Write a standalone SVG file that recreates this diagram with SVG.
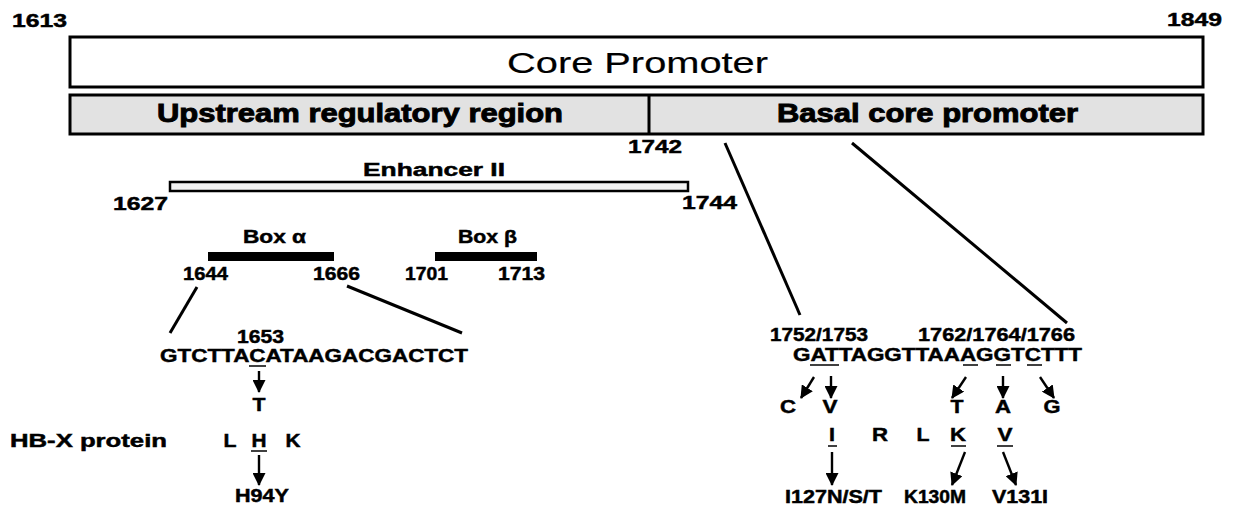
<svg xmlns="http://www.w3.org/2000/svg" width="1237" height="510" viewBox="0 0 1237 510">
<style>
text{font-family:"Liberation Sans",Arial,sans-serif;font-weight:bold;fill:#000;stroke:#000;stroke-width:0.45}
.n{font-size:17.5px}
.s{font-size:18px}
.big{font-size:25px;stroke-width:0.9}
.cp{font-size:29px;font-weight:normal;stroke-width:0.2}
.ln{stroke:#000;stroke-width:3;fill:none}
.ar{stroke:#000;stroke-width:2.4;fill:none;marker-end:url(#ah)}
.ul{stroke:#000;stroke-width:1.5}
</style>
<defs>
<marker id="ah" markerUnits="userSpaceOnUse" markerWidth="13" markerHeight="13" viewBox="0 0 13 13" refX="12" refY="6.5" orient="auto">
<path d="M0,0 L13,6.5 L0,13 z" fill="#000"/>
</marker>
</defs>
<rect width="1237" height="510" fill="#fff"/>

<g id="coords-top">
<text class="n" x="12" y="27" textLength="55" lengthAdjust="spacingAndGlyphs">1613</text>
<text class="n" x="1167" y="26" textLength="55" lengthAdjust="spacingAndGlyphs">1849</text>
</g>

<g id="core-promoter">
<rect x="70" y="37" width="1133" height="50" fill="#fff" stroke="#000" stroke-width="3"/>
<text class="cp" x="637.5" y="73" text-anchor="middle" textLength="261" lengthAdjust="spacingAndGlyphs">Core Promoter</text>
</g>

<g id="regions">
<rect x="70" y="95" width="1133" height="39" fill="#e2e2e2" stroke="#000" stroke-width="3"/>
<line x1="649" y1="95" x2="649" y2="134" stroke="#000" stroke-width="3"/>
<text class="big" x="157" y="122" textLength="406" lengthAdjust="spacingAndGlyphs">Upstream regulatory region</text>
<text class="big" x="777" y="122" textLength="301" lengthAdjust="spacingAndGlyphs">Basal core promoter</text>
<text class="n" x="628" y="153" textLength="54" lengthAdjust="spacingAndGlyphs">1742</text>
</g>

<g id="enhancer-ii">
<text class="n" x="363" y="176" textLength="142" lengthAdjust="spacingAndGlyphs">Enhancer II</text>
<rect x="170" y="182" width="518" height="9" fill="#f2f2f2" stroke="#000" stroke-width="2.5"/>
<text class="n" x="113" y="210" textLength="55" lengthAdjust="spacingAndGlyphs">1627</text>
<text class="n" x="682" y="209" textLength="55" lengthAdjust="spacingAndGlyphs">1744</text>
</g>

<g id="box-alpha">
<text class="n" x="243" y="243" textLength="63" lengthAdjust="spacingAndGlyphs">Box α</text>
<rect x="208" y="252" width="126" height="9" fill="#000"/>
<text class="n" x="183" y="280" textLength="45" lengthAdjust="spacingAndGlyphs">1644</text>
<text class="n" x="313" y="280" textLength="47" lengthAdjust="spacingAndGlyphs">1666</text>
</g>

<g id="box-beta">
<text class="n" x="458" y="243" textLength="59" lengthAdjust="spacingAndGlyphs">Box β</text>
<rect x="435" y="252" width="102" height="9" fill="#000"/>
<text class="n" x="405" y="280" textLength="43" lengthAdjust="spacingAndGlyphs">1701</text>
<text class="n" x="498" y="280" textLength="47" lengthAdjust="spacingAndGlyphs">1713</text>
</g>

<g id="seq-left">
<text class="n" x="237" y="343" textLength="47" lengthAdjust="spacingAndGlyphs">1653</text>
<text class="s" x="160" y="362" textLength="308" lengthAdjust="spacingAndGlyphs">GTCTTACATAAGACGACTCT</text>
<line class="ul" x1="249" y1="366" x2="266" y2="366"/>
<text class="s" x="259" y="411" text-anchor="middle" textLength="13" lengthAdjust="spacingAndGlyphs">T</text>
</g>

<g id="hbx-protein">
<text class="n" x="10" y="447" textLength="157" lengthAdjust="spacingAndGlyphs">HB-X protein</text>
<text class="s" x="230" y="447" text-anchor="middle" textLength="13" lengthAdjust="spacingAndGlyphs">L</text>
<text class="s" x="259" y="447" text-anchor="middle" textLength="15" lengthAdjust="spacingAndGlyphs">H</text>
<text class="s" x="293" y="447" text-anchor="middle" textLength="15" lengthAdjust="spacingAndGlyphs">K</text>
<line class="ul" x1="251" y1="451" x2="267" y2="451"/>
<text class="n" x="262" y="502" text-anchor="middle" textLength="54" lengthAdjust="spacingAndGlyphs">H94Y</text>
</g>

<g id="seq-right">
<text class="n" x="770" y="341" textLength="98" lengthAdjust="spacingAndGlyphs">1752/1753</text>
<text class="n" x="918" y="341" textLength="157" lengthAdjust="spacingAndGlyphs">1762/1764/1766</text>
<text class="s" x="793" y="361" textLength="289" lengthAdjust="spacingAndGlyphs">GATTAGGTTAAAGGTCTTT</text>
<line class="ul" x1="810" y1="365" x2="839" y2="365"/>
<line class="ul" x1="963" y1="365" x2="978" y2="365"/>
<line class="ul" x1="996" y1="365" x2="1011" y2="365"/>
<line class="ul" x1="1027" y1="365" x2="1042" y2="365"/>
<text class="s" x="788" y="413" text-anchor="middle" textLength="16" lengthAdjust="spacingAndGlyphs">C</text>
<text class="s" x="830" y="413" text-anchor="middle" textLength="15" lengthAdjust="spacingAndGlyphs">V</text>
<text class="s" x="957" y="413" text-anchor="middle" textLength="13" lengthAdjust="spacingAndGlyphs">T</text>
<text class="s" x="1003" y="413" text-anchor="middle" textLength="16" lengthAdjust="spacingAndGlyphs">A</text>
<text class="s" x="1052" y="413" text-anchor="middle" textLength="17" lengthAdjust="spacingAndGlyphs">G</text>
</g>

<g id="protein-right">
<text class="s" x="832" y="441" text-anchor="middle" textLength="6" lengthAdjust="spacingAndGlyphs">I</text>
<text class="s" x="880" y="441" text-anchor="middle" textLength="16" lengthAdjust="spacingAndGlyphs">R</text>
<text class="s" x="923" y="441" text-anchor="middle" textLength="13" lengthAdjust="spacingAndGlyphs">L</text>
<text class="s" x="958" y="441" text-anchor="middle" textLength="16" lengthAdjust="spacingAndGlyphs">K</text>
<text class="s" x="1005" y="441" text-anchor="middle" textLength="15" lengthAdjust="spacingAndGlyphs">V</text>
<line class="ul" x1="828" y1="446" x2="837" y2="446"/>
<line class="ul" x1="951" y1="446" x2="966" y2="446"/>
<line class="ul" x1="997" y1="446" x2="1013" y2="446"/>
<text class="n" x="785" y="503" textLength="97" lengthAdjust="spacingAndGlyphs">I127N/S/T</text>
<text class="n" x="904" y="503" textLength="62" lengthAdjust="spacingAndGlyphs">K130M</text>
<text class="n" x="992" y="503" textLength="56" lengthAdjust="spacingAndGlyphs">V131I</text>
</g>

<g id="connectors">
<line class="ln" x1="197" y1="287" x2="170" y2="333"/>
<line class="ln" x1="347" y1="286" x2="462" y2="333"/>
<line class="ln" x1="725" y1="143" x2="800" y2="315"/>
<line class="ln" x1="852" y1="143" x2="1067" y2="323"/>
<line class="ar" x1="259" y1="371" x2="259" y2="392"/>
<line class="ar" x1="259" y1="455" x2="259" y2="485"/>
<line class="ar" x1="814" y1="377" x2="801" y2="398"/>
<line class="ar" x1="831" y1="376" x2="831" y2="398"/>
<line class="ar" x1="966" y1="377" x2="952" y2="398"/>
<line class="ar" x1="1003" y1="376" x2="1003" y2="398"/>
<line class="ar" x1="1040" y1="377" x2="1054" y2="398"/>
<line class="ar" x1="832" y1="452" x2="832" y2="485"/>
<line class="ar" x1="965" y1="452" x2="952" y2="485"/>
<line class="ar" x1="1003" y1="452" x2="1016" y2="485"/>
</g>
</svg>
